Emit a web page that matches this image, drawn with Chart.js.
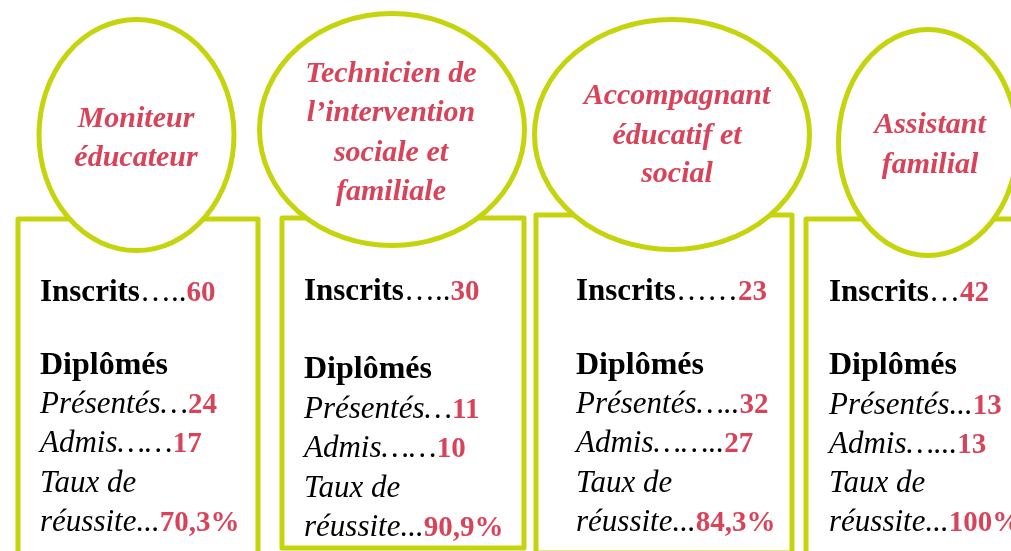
<!DOCTYPE html>
<html lang="fr">
<head>
<meta charset="utf-8">
<title>Diplômes – inscrits et taux de réussite</title>
<script src="https://cdn.jsdelivr.net/npm/chart.js@4/dist/chart.umd.min.js"></script>
<style>
  html, body { margin: 0; padding: 0; background: #ffffff; }
  #wrap { position: relative; width: 1011px; height: 551px; overflow: hidden; }
</style>
</head>
<body>
<div id="wrap"><canvas id="c" width="1011" height="551"></canvas></div>
<script>
// ---------- DATA ----------
const categories = ["Moniteur éducateur", "Technicien de l’intervention sociale et familiale", "Accompagnant éducatif et social", "Assistant familial"];
const titleLines = [
  ["Moniteur", "éducateur"],
  ["Technicien de", "l’intervention", "sociale et", "familiale"],
  ["Accompagnant", "éducatif et", "social"],
  ["Assistant", "familial"]
];
const inscrits = [60, 30, 23, 42];
const presentes = [24, 11, 32, 13];
const admis = [17, 10, 27, 13];
const tauxReussite = [70.3, 90.9, 84.3, 100];
const labelInscrits = "Inscrits";
const labelDiplomes = "Diplômés";
const labelPresentes = "Présentés";
const labelAdmis = "Admis";
const labelTaux1 = "Taux de";
const labelTaux2 = "réussite";
const dotsInscrits = ["…..", "…..", "……", "…"];
const dotsPresentes = ["…", "…", "…..", "..."];
const dotsAdmis = ["……", "……", "……..", "…..."];
const dotsTaux = ["...", "...", "...", "..."];

// ---------- LAYOUT (pixel offsets relative to each column's scale position) ----------
const layout = [
  { box: [-120, 120], top: 219, bottom: 640, ell: [-1.5, 135, 97.5, 115.5], textDx: -98, titleDx: -2, titleY: [127, 166], rows: [301, 374, 413, 452, 492, 531] },
  { box: [-120, 122], top: 218, bottom: 548, ell: [-10, 129.5, 132.5, 116], textDx: -98, titleDx: -11, titleY: [82, 121, 161, 200], rows: [300, 378, 418, 457, 497, 536] },
  { box: [-130, 126], top: 215, bottom: 553, ell: [6, 134.5, 137.5, 115], textDx: -90, titleDx: 11, titleY: [104, 144, 182], rows: [300, 374, 413, 452, 492, 531] },
  { box: [-124, 120], top: 219, bottom: 640, ell: [-2, 142.5, 89.5, 113], textDx: -101, titleDx: 0, titleY: [133, 173], rows: [301, 374, 414, 453, 492, 531] }
];
const GREEN = "#c5d40c";
const RED = "#d8435a";
const BLACK = "#000000";
const FAMILY = "'Liberation Serif', 'Times New Roman', serif";
const F_BOLD = "bold 31px " + FAMILY;
const F_LABEL = "bold 32px " + FAMILY;
const F_NUM = "bold 29px " + FAMILY;
const F_NORM = "31px " + FAMILY;
const F_ITAL = "italic 31px " + FAMILY;
const F_TITLE = "italic bold 30px " + FAMILY;

function fmtPct(v) { return String(v).replace('.', ',') + '%'; }

function drawRuns(ctx, x, y, runs) {
  let cx = x;
  for (const r of runs) {
    ctx.font = r.font;
    ctx.fillStyle = r.color;
    ctx.fillText(r.text, cx, y);
    cx += ctx.measureText(r.text).width;
  }
}

const infographic = {
  id: 'infographic',
  afterDatasetsDraw(chart) {
    const ctx = chart.ctx;
    const xs = chart.scales.x;
    ctx.save();
    ctx.textBaseline = 'alphabetic';
    // boxes
    categories.forEach((c, i) => {
      const L = layout[i];
      const cx = xs.getPixelForValue(i);
      ctx.lineWidth = 5;
      ctx.lineJoin = 'round';
      ctx.strokeStyle = GREEN;
      ctx.strokeRect(cx + L.box[0], L.top, L.box[1] - L.box[0], L.bottom - L.top);
    });
    // ellipses
    categories.forEach((c, i) => {
      const L = layout[i];
      const cx = xs.getPixelForValue(i);
      ctx.beginPath();
      ctx.ellipse(cx + L.ell[0], L.ell[1], L.ell[2], L.ell[3], 0, 0, Math.PI * 2);
      ctx.fillStyle = '#ffffff';
      ctx.fill();
      ctx.lineWidth = 5;
      ctx.strokeStyle = GREEN;
      ctx.stroke();
    });
    // titles
    categories.forEach((c, i) => {
      const L = layout[i];
      const cx = xs.getPixelForValue(i);
      ctx.font = F_TITLE;
      ctx.fillStyle = RED;
      ctx.textAlign = 'center';
      titleLines[i].forEach((line, k) => ctx.fillText(line, cx + L.titleDx, L.titleY[k]));
    });
    // body texts
    ctx.textAlign = 'left';
    categories.forEach((c, i) => {
      const L = layout[i];
      const x = xs.getPixelForValue(i) + L.textDx;
      const r = L.rows;
      drawRuns(ctx, x, r[0], [
        { text: labelInscrits, font: F_BOLD, color: BLACK },
        { text: dotsInscrits[i], font: F_NORM, color: BLACK },
        { text: String(inscrits[i]), font: F_NUM, color: RED }
      ]);
      drawRuns(ctx, x, r[1], [{ text: labelDiplomes, font: F_LABEL, color: BLACK }]);
      drawRuns(ctx, x, r[2], [
        { text: labelPresentes + dotsPresentes[i], font: F_ITAL, color: BLACK },
        { text: String(presentes[i]), font: F_NUM, color: RED }
      ]);
      drawRuns(ctx, x, r[3], [
        { text: labelAdmis + dotsAdmis[i], font: F_ITAL, color: BLACK },
        { text: String(admis[i]), font: F_NUM, color: RED }
      ]);
      drawRuns(ctx, x, r[4], [{ text: labelTaux1, font: F_ITAL, color: BLACK }]);
      drawRuns(ctx, x, r[5], [
        { text: labelTaux2 + dotsTaux[i], font: F_ITAL, color: BLACK },
        { text: fmtPct(tauxReussite[i]), font: F_NUM, color: RED }
      ]);
    });
    ctx.restore();
  }
};

new Chart(document.getElementById('c'), {
  type: 'scatter',
  data: {
    datasets: [{
      label: 'Inscrits',
      data: categories.map((c, i) => ({ x: i, y: inscrits[i] })),
      pointRadius: 0,
      pointHoverRadius: 0,
      showLine: false
    }]
  },
  options: {
    responsive: false,
    animation: false,
    layout: { padding: 0 },
    events: [],
    plugins: { legend: { display: false }, tooltip: { enabled: false }, title: { display: false } },
    scales: {
      x: { type: 'linear', display: false, min: -138 / 264, max: (1011 - 138) / 264 },
      y: { display: false, min: 0, max: 100 }
    }
  },
  plugins: [infographic]
});
</script>
</body>
</html>
